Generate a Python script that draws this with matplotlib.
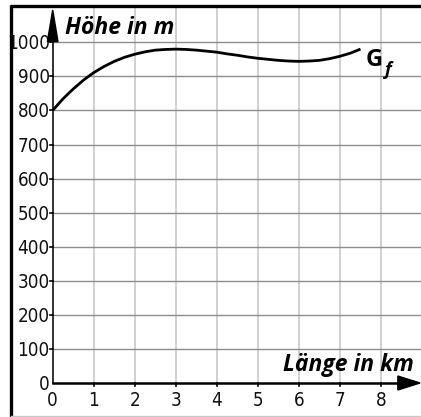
import numpy as np
import matplotlib.pyplot as plt
from matplotlib.lines import Line2D

# Werte
laenge_km = [0, 0.25, 0.5, 0.75, 1, 1.25, 1.5, 1.75, 2, 2.25, 2.5, 2.75, 3,
             3.25, 3.5, 3.75, 4, 4.25, 4.5, 4.75, 5, 5.25, 5.5, 5.75, 6,
             6.25, 6.5, 6.75, 7, 7.25, 7.5]
hoehe_m = [800, 834, 863, 889, 911, 929, 944, 956, 965, 972, 977, 979, 980,
           979, 977, 974, 971, 966, 962, 957, 953, 950, 947, 945, 944,
           945, 947, 952, 959, 968, 980]

x_ticks = [0, 1, 2, 3, 4, 5, 6, 7, 8]
y_ticks = [0, 100, 200, 300, 400, 500, 600, 700, 800, 900, 1000]

W, H = 421, 417
px_x = 41.04     # Pixel pro km
px_y = 0.3407    # Pixel pro m
x0, y0 = 52.7, 383.0

fig = plt.figure(figsize=(W / 100, H / 100), dpi=100)
fig.patch.set_facecolor('white')
ax = fig.add_axes([0, 0, 1, 1])
ax.set_xlim(-x0 / px_x, (W - x0) / px_x)
ax.set_ylim(-(H - y0) / px_y, y0 / px_y)
ax.axis('off')

y_top = (y0 - 6) / px_y
x_right = (W - x0) / px_x

# Gitter
for xv in x_ticks[1:]:
    ax.plot([xv, xv], [0, y_top], color='#cdcdcd', lw=1.3, zorder=1)
for yv in y_ticks[1:]:
    ax.plot([0, x_right], [yv, yv], color='#8c8c8c', lw=1.0, zorder=2)

# Achsen
ax.plot([0, 0], [0, 1005], color='#222222', lw=1.3, zorder=3)
ax.plot([0, 8.5], [0, 0], color='black', lw=1.8, zorder=3)
ax.fill([-5.3 / px_x, 0, 5.3 / px_x], [1002, 1095, 1002], color='black', zorder=4)
ax.fill([8.41, 8.95, 8.41], [7 / px_y, 0, -7 / px_y], color='black', zorder=4)

# Ticks
for xv in x_ticks[1:]:
    ax.plot([xv, xv], [0, -3 / px_y], color='black', lw=1.2, zorder=3)
for yv in y_ticks[1:]:
    ax.plot([0, -3 / px_x], [yv, yv], color='black', lw=1.2, zorder=3)

num_font = ['DejaVu Sans']
for yv in y_ticks:
    ax.text(-3 / px_x, yv - 1.5 / px_y, str(yv), ha='right', va='center',
            fontsize=13.5, fontstretch='condensed', family=num_font,
            color='#111111')
for xv in x_ticks:
    ax.text(xv, -50, str(xv), ha='center', va='center', fontsize=13.5,
            fontstretch='condensed', family=num_font, color='#111111')

lab_font = ['Open Sans', 'DejaVu Sans']
ax.text(12 / px_x, (y0 - 28) / px_y, 'Höhe in m', ha='left', va='center',
        fontsize=16.5, fontweight='bold', fontstyle='italic', family=lab_font)
ax.text((414 - x0) / px_x, (y0 - 365) / px_y, 'Länge in km', ha='right',
        va='center', fontsize=16.5, fontweight='bold', fontstyle='italic',
        family=lab_font)

# Graph
ax.plot(laenge_km, hoehe_m, color='black', lw=2.0, zorder=5,
        solid_capstyle='butt')
ax.text((366 - x0) / px_x, (y0 - 60) / px_y, 'G', ha='left', va='center',
        fontsize=17, fontweight='bold', family=lab_font)
ax.text((384.5 - x0) / px_x, (y0 - 70) / px_y, 'f', ha='left', va='center',
        fontsize=13, fontweight='bold', fontstyle='italic', family=lab_font)

# Rahmen
fig.add_artist(Line2D([11 / W, 11 / W], [0, 1 - 4.5 / H], color='black',
                      lw=2.4, solid_capstyle='butt'))
fig.add_artist(Line2D([9.8 / W, 1], [1 - 6 / H, 1 - 6 / H], color='black',
                      lw=2.4, solid_capstyle='butt'))
fig.add_artist(Line2D([11 / W, 1], [1.5 / H, 1.5 / H], color='#c8c8c8', lw=1.0))

fig.savefig('out.png', dpi=100)
